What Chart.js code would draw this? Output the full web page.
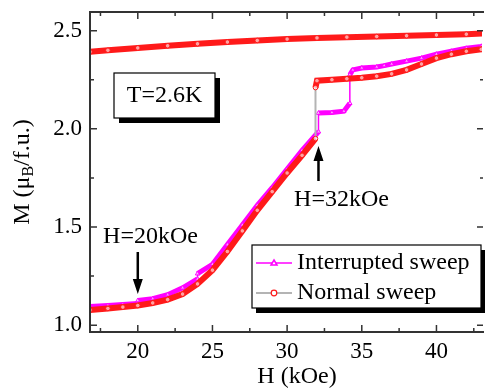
<!DOCTYPE html>
<html>
<head>
<meta charset="utf-8">
<script src="https://cdn.jsdelivr.net/npm/chart.js@4.4.0/dist/chart.umd.min.js"></script>
<style>
    html, body { margin: 0; padding: 0; background: #fff; overflow: hidden; }
    canvas { display: block; }
</style>
</head>
<body>
<canvas id="chart" width="487" height="388"></canvas>
<script>
// M(H) at T = 2.6 K
const xTicks = [20, 25, 30, 35, 40];
const yTicks = [1.0, 1.5, 2.0, 2.5];

// normal sweep, increasing field
const normalH = [16.8, 18, 19, 20, 21, 22, 23, 24, 25, 26, 27, 28, 29, 30, 31, 31.9, 31.9, 32.0, 33, 34, 35, 36, 37, 38, 39, 40, 41, 42, 43, 44.2];
const normalM = [1.077, 1.085, 1.092, 1.10, 1.113, 1.13, 1.158, 1.21, 1.28, 1.375, 1.48, 1.585, 1.68, 1.775, 1.865, 1.95, 2.21, 2.245, 2.25, 2.255, 2.26, 2.268, 2.28, 2.30, 2.33, 2.36, 2.38, 2.395, 2.405, 2.42];

// normal sweep, decreasing field (upper branch)
const returnH = [44.2, 42, 40, 38, 36, 34, 32, 30, 28, 26, 24, 22, 20, 18, 16.8];
const returnM = [2.488, 2.482, 2.478, 2.474, 2.47, 2.467, 2.463, 2.457, 2.45, 2.442, 2.433, 2.423, 2.412, 2.40, 2.392];

// interrupted sweep
const interH = [16.8, 18, 19, 20, 20, 21, 22, 23, 24, 24, 25, 26, 27, 28, 29, 30, 31, 32.1, 32.1, 33, 33.8, 34.2, 34.2, 34.4, 35, 36, 36.5, 37, 38, 39, 40, 41, 42, 43, 44.2];
const interM = [1.095, 1.10, 1.105, 1.11, 1.125, 1.135, 1.155, 1.19, 1.235, 1.262, 1.31, 1.41, 1.51, 1.61, 1.70, 1.795, 1.89, 1.985, 2.08, 2.083, 2.09, 2.13, 2.275, 2.30, 2.31, 2.315, 2.322, 2.33, 2.345, 2.36, 2.38, 2.395, 2.41, 2.42, 2.435];

const RED = '#ff1a1a';
const MAGENTA = '#ff00ff';
const GRAY = '#b4b4b4';
const SERIF = '"Liberation Serif", "Times New Roman", serif';

function toPoints(xs, ys) {
    return xs.map((x, i) => ({x: x, y: ys[i]}));
};

// vertical jumps are drawn with a thin line, dense parts as a thick band
function isJump(ctx) {
    return Math.abs(ctx.p1.parsed.x - ctx.p0.parsed.x) < 0.01;
};

const frameAndNotes = {
    id: 'frameAndNotes',
    afterDatasetsDraw(chart) {
        const ctx = chart.ctx;
        const a = chart.chartArea;
        const xs = chart.scales.x;
        const ys = chart.scales.y;

        ctx.save();
        // frame (right side falls outside the cropped picture)
        ctx.strokeStyle = '#333';
        ctx.lineWidth = 2;
        ctx.beginPath();
        ctx.moveTo(a.right + 2, a.top);
        ctx.lineTo(a.left, a.top);
        ctx.lineTo(a.left, a.bottom);
        ctx.lineTo(a.right + 2, a.bottom);
        ctx.stroke();

        // inward ticks on all four sides
        ctx.lineWidth = 1.5;
        ctx.beginPath();
        const xMinor = xTicks.map(v => v - 2.5).concat([xTicks[xTicks.length - 1] + 2.5]);
        const yMinor = yTicks.slice(1).map(v => v - 0.25);
        xTicks.forEach(v => {
            const p = xs.getPixelForValue(v);
            ctx.moveTo(p, a.bottom); ctx.lineTo(p, a.bottom - 7);
            ctx.moveTo(p, a.top); ctx.lineTo(p, a.top + 7);
        });
        xMinor.forEach(v => {
            const p = xs.getPixelForValue(v);
            ctx.moveTo(p, a.bottom); ctx.lineTo(p, a.bottom - 4);
            ctx.moveTo(p, a.top); ctx.lineTo(p, a.top + 4);
        });
        yTicks.forEach(v => {
            const p = ys.getPixelForValue(v);
            ctx.moveTo(a.left, p); ctx.lineTo(a.left + 7, p);
            ctx.moveTo(a.right + 1, p); ctx.lineTo(a.right - 5, p);
        });
        yMinor.forEach(v => {
            const p = ys.getPixelForValue(v);
            ctx.moveTo(a.left, p); ctx.lineTo(a.left + 4, p);
            ctx.moveTo(a.right + 1, p); ctx.lineTo(a.right - 2, p);
        });
        ctx.stroke();

        ctx.fillStyle = '#000';
        ctx.textBaseline = 'middle';

        // axis titles
        ctx.font = '24px ' + SERIF;
        ctx.textAlign = 'center';
        ctx.fillText('H (kOe)', 297, 377);

        ctx.save();
        ctx.translate(23, (a.top + a.bottom) / 2);
        ctx.rotate(-Math.PI / 2);
        const parts = [['M (\u03bc', '24px ' + SERIF, 0], ['B', '16px ' + SERIF, 6], ['/f.u.)', '24px ' + SERIF, 0]];
        let total = 0;
        parts.forEach(p => { ctx.font = p[1]; total += ctx.measureText(p[0]).width; });
        let cx = -total / 2;
        ctx.textAlign = 'left';
        parts.forEach(p => {
            ctx.font = p[1];
            ctx.fillText(p[0], cx, p[2]);
            cx += ctx.measureText(p[0]).width;
        });
        ctx.restore();

        // temperature box
        ctx.fillStyle = '#000';
        ctx.fillRect(119, 78, 101, 45);
        ctx.fillStyle = '#fff';
        ctx.fillRect(114, 73, 101, 45);
        ctx.strokeStyle = '#000';
        ctx.lineWidth = 1.2;
        ctx.strokeRect(114, 73, 101, 45);
        ctx.fillStyle = '#000';
        ctx.font = '24px ' + SERIF;
        ctx.textAlign = 'center';
        ctx.fillText('T=2.6K', 164.5, 96);

        // arrows
        function arrow(x, y0, y1) {
            const dir = y1 > y0 ? 1 : -1;
            ctx.lineWidth = 2.5;
            ctx.beginPath();
            ctx.moveTo(x, y0);
            ctx.lineTo(x, y1 - dir * 10);
            ctx.stroke();
            ctx.beginPath();
            ctx.moveTo(x, y1);
            ctx.lineTo(x - 5, y1 - dir * 15);
            ctx.lineTo(x + 5, y1 - dir * 15);
            ctx.closePath();
            ctx.fill();
        };
        arrow(xs.getPixelForValue(20), 252, 294);
        arrow(xs.getPixelForValue(32.1), 181, 146);
        ctx.fillText('H=20kOe', 150.5, 237);
        ctx.fillText('H=32kOe', 341.5, 200);

        // legend
        const lx = 252, ly = 245, lw = 229, lh = 63;
        ctx.fillRect(lx + 4, ly + 5, lw, lh);
        ctx.fillStyle = '#fff';
        ctx.fillRect(lx, ly, lw, lh);
        ctx.lineWidth = 1.2;
        ctx.strokeRect(lx, ly, lw, lh);

        ctx.lineWidth = 1.5;
        ctx.strokeStyle = MAGENTA;
        ctx.beginPath(); ctx.moveTo(256, 263); ctx.lineTo(292, 263); ctx.stroke();
        ctx.beginPath(); ctx.moveTo(274, 260); ctx.lineTo(277, 265); ctx.lineTo(271, 265); ctx.closePath();
        ctx.fillStyle = '#fff'; ctx.fill(); ctx.stroke();

        ctx.lineWidth = 2;
        ctx.strokeStyle = GRAY;
        ctx.beginPath(); ctx.moveTo(256, 293); ctx.lineTo(292, 293); ctx.stroke();
        ctx.lineWidth = 1.2;
        ctx.strokeStyle = RED;
        ctx.beginPath(); ctx.arc(274, 293, 2.8, 0, Math.PI * 2);
        ctx.fill(); ctx.stroke();

        ctx.fillStyle = '#000';
        ctx.textAlign = 'left';
        ctx.font = '24px ' + SERIF;
        ctx.fillText('Interrupted sweep', 297, 263);
        ctx.fillText('Normal sweep', 297, 293);
        ctx.restore();
    }
};

const chart = new Chart(document.getElementById('chart'), {
    type: 'line',
    data: {
        datasets: [{
            label: 'Normal sweep',
            data: toPoints(normalH, normalM),
            borderColor: RED,
            borderWidth: 6,
            pointStyle: 'circle',
            pointRadius: 2.3,
            pointBorderWidth: 1,
            pointBorderColor: RED,
            pointBackgroundColor: 'rgba(255,255,255,0.6)',
            segment: {
                borderColor: c => isJump(c) ? GRAY : undefined,
                borderWidth: c => isJump(c) ? 2 : undefined
            },
            order: 0
        }, {
            label: 'Normal sweep (decreasing)',
            data: toPoints(returnH, returnM),
            borderColor: RED,
            borderWidth: 6,
            pointStyle: 'circle',
            pointRadius: 2.3,
            pointBorderWidth: 1,
            pointBorderColor: RED,
            pointBackgroundColor: 'rgba(255,255,255,0.6)',
            order: 0
        }, {
            label: 'Interrupted sweep',
            data: toPoints(interH, interM),
            borderColor: MAGENTA,
            borderWidth: 5,
            pointStyle: 'triangle',
            pointRadius: 2.5,
            pointBorderWidth: 1,
            pointBorderColor: MAGENTA,
            pointBackgroundColor: 'rgba(255,255,255,0.6)',
            segment: {
                borderWidth: c => isJump(c) ? 1.5 : undefined
            },
            order: 1
        }]
    },
    options: {
        responsive: false,
        animation: false,
        events: [],
        layout: {
            padding: {top: 12, right: -5, left: 0, bottom: 0}
        },
        scales: {
            x: {
                type: 'linear',
                min: 16.8,
                max: 43.05,
                afterBuildTicks: s => { s.ticks = xTicks.map(v => ({value: v})); },
                afterFit: s => { s.height = 56; s.paddingLeft = 0; s.paddingRight = 0; },
                grid: {display: false, drawTicks: false},
                border: {display: false},
                ticks: {
                    color: '#000',
                    padding: 6,
                    maxRotation: 0,
                    font: {family: SERIF, size: 23}
                }
            },
            y: {
                type: 'linear',
                min: 0.965,
                max: 2.595,
                afterBuildTicks: s => { s.ticks = yTicks.map(v => ({value: v})); },
                afterFit: s => { s.width = 90; s.paddingTop = 0; s.paddingBottom = 0; },
                grid: {display: false, drawTicks: false},
                border: {display: false},
                ticks: {
                    color: '#000',
                    padding: 8,
                    font: {family: SERIF, size: 23},
                    callback: v => v.toFixed(1)
                }
            }
        },
        plugins: {
            legend: {display: false},
            tooltip: {enabled: false}
        }
    },
    plugins: [frameAndNotes]
});
</script>
</body>
</html>
